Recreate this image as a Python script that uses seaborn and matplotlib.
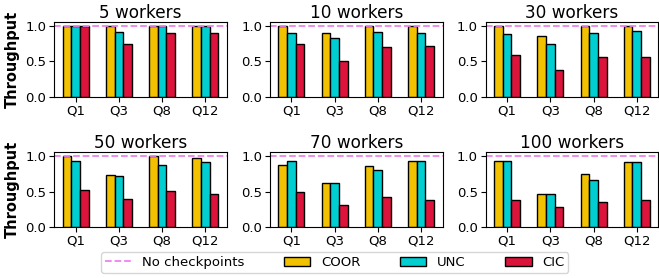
import matplotlib
matplotlib.use("Agg")
import matplotlib.pyplot as plt
import seaborn as sns
import pandas as pd
from matplotlib.lines import Line2D
from matplotlib.patches import Patch

queries = ["Q1", "Q3", "Q8", "Q12"]
workers = [5, 10, 30, 50, 70, 100]
methods = ["COOR", "UNC", "CIC"]

coor = {
    5:   [1.00, 1.00, 1.00, 1.00],
    10:  [1.00, 0.90, 1.00, 1.00],
    30:  [1.00, 0.86, 1.00, 1.00],
    50:  [1.00, 0.73, 1.00, 0.97],
    70:  [0.88, 0.63, 0.87, 0.94],
    100: [0.93, 0.47, 0.75, 0.92],
}
unc = {
    5:   [1.00, 0.92, 1.00, 1.00],
    10:  [0.90, 0.83, 0.91, 0.90],
    30:  [0.89, 0.75, 0.90, 0.93],
    50:  [0.94, 0.72, 0.88, 0.92],
    70:  [0.94, 0.63, 0.80, 0.94],
    100: [0.93, 0.47, 0.67, 0.92],
}
cic = {
    5:   [1.00, 0.75, 0.90, 0.90],
    10:  [0.75, 0.50, 0.70, 0.71],
    30:  [0.59, 0.38, 0.56, 0.56],
    50:  [0.52, 0.40, 0.51, 0.47],
    70:  [0.50, 0.31, 0.43, 0.38],
    100: [0.39, 0.29, 0.35, 0.38],
}
baseline = 1.0

colors = {"COOR": "#F2C200", "UNC": "#00CED1", "CIC": "#DC143C"}
line_color = "violet"

rows = []
for w in workers:
    for m, d in zip(methods, [coor, unc, cic]):
        for q, v in zip(queries, d[w]):
            rows.append({"workers": w, "query": q, "method": m, "value": v})
df = pd.DataFrame(rows)

fig, axes = plt.subplots(2, 3, figsize=(6.59, 2.78), dpi=100)
fig.subplots_adjust(left=0.082, right=0.999, top=0.922, bottom=0.183,
                    wspace=0.249, hspace=0.737)

for i, (ax, w) in enumerate(zip(axes.flat, workers)):
    sub = df[df["workers"] == w]
    sns.barplot(data=sub, x="query", y="value", hue="method",
                order=queries, hue_order=methods, palette=colors,
                saturation=1, width=0.6, edgecolor="black", linewidth=1.0,
                ax=ax, legend=False)
    ax.axhline(baseline, color=line_color, linestyle="--", linewidth=1.3)
    ax.set_title(f"{w} workers", fontsize=12.2, pad=3)
    ax.set_xlabel("")
    ax.set_yticks([0.0, 0.5, 1.0])
    ax.set_ylim(0, 1.06)
    ax.tick_params(labelsize=9.5, pad=2)
    if i % 3 == 0:
        ax.set_ylabel("Throughput", fontsize=10.5, fontweight="bold")
    else:
        ax.set_ylabel("")

handles = [Line2D([0], [0], color=line_color, linestyle="--", linewidth=1.3,
                  label="No checkpoints")]
for m in methods:
    handles.append(Patch(facecolor=colors[m], edgecolor="black", label=m))
fig.legend(handles=handles, loc="center", bbox_to_anchor=(0.508, 0.056),
           ncol=4, fontsize=9.5, columnspacing=3.0, handletextpad=0.8,
           borderpad=0.3)

fig.savefig("out.png", dpi=100)
